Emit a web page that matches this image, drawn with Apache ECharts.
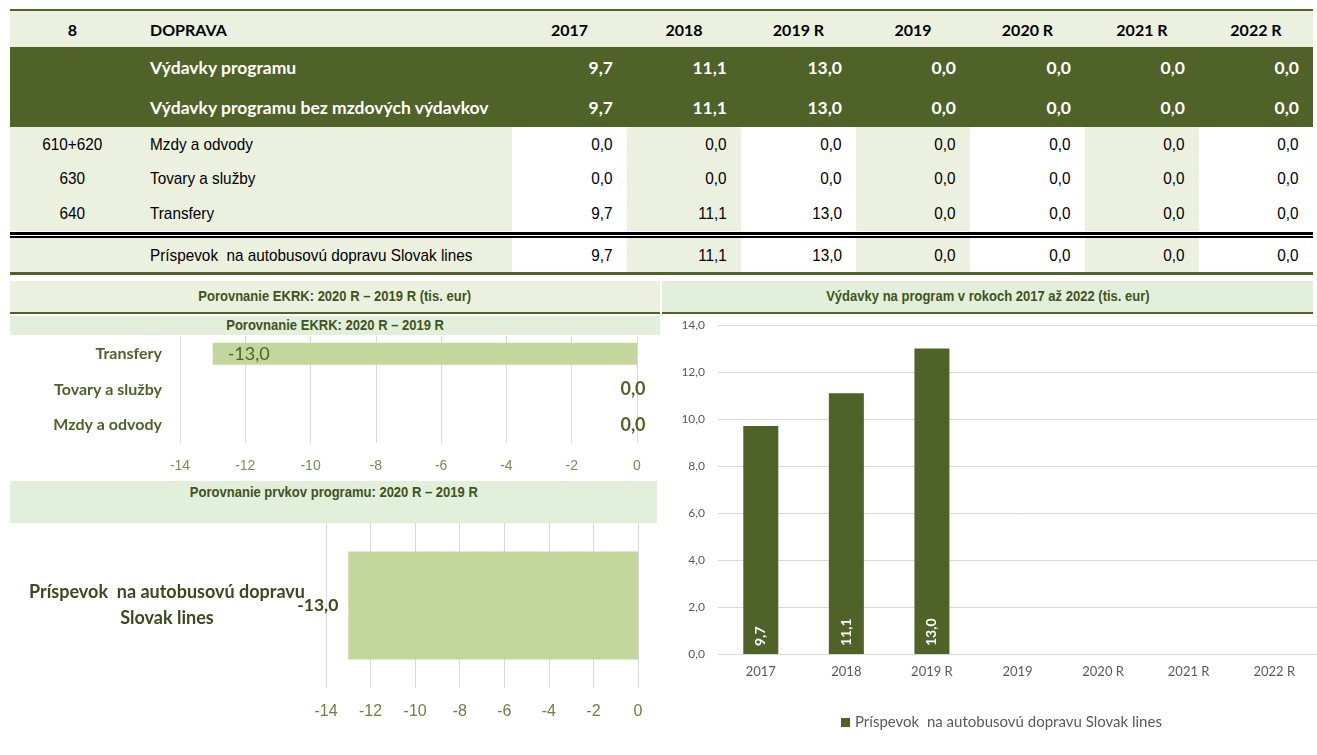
<!DOCTYPE html>
<html>
<head>
<meta charset="utf-8">
<script src="https://cdn.jsdelivr.net/npm/echarts@6/dist/echarts.min.js"></script>
<style>
html,body{margin:0;padding:0;background:#fff;}
body{width:1317px;height:755px;position:relative;overflow:hidden;}
.abs{position:absolute;box-sizing:border-box;}
.cell{position:absolute;box-sizing:border-box;display:flex;align-items:center;white-space:pre;}
.cell span{display:inline-block;}
.hd{font-family:Lato,"Noto Sans",sans-serif;font-weight:bold;font-size:16px;color:#000;}
.dk{font-family:Lato,"Noto Sans",sans-serif;font-weight:bold;font-size:17.5px;color:#fff;}
.nr{font-family:"Liberation Sans Narrow","Liberation Sans",Arial,sans-serif;font-size:17px;color:#000;}
.nr span{transform:scaleX(0.9);}
.band{position:absolute;box-sizing:border-box;font-family:"Liberation Sans Narrow","Liberation Sans",Arial,sans-serif;font-weight:bold;font-size:14px;color:#3F5420;text-align:center;}
.band span{display:inline-block;transform:scaleX(0.93);}
#chart{position:absolute;left:0;top:0;width:1317px;height:755px;z-index:5;}
</style>
</head>
<body>
<div id="table"></div>
<div class="band" style="left:10px;top:281px;width:650px;height:33px;background:#EBF1DE;border-bottom:2px solid #4F6228;line-height:31px;"><span>Porovnanie EKRK: 2020 R – 2019 R (tis. eur)</span></div>
<div class="band" style="left:662px;top:281px;width:651px;height:33px;background:#E2EFDA;border-bottom:2px solid #4F6228;line-height:31px;"><span>Výdavky na program v rokoch 2017 až 2022 (tis. eur)</span></div>
<div class="band" style="left:10px;top:316px;width:650px;height:19px;background:#E2EFDA;line-height:19px;"><span>Porovnanie EKRK: 2020 R – 2019 R</span></div>
<div class="band" style="left:10px;top:481px;width:647px;height:42px;background:#E2EFDA;line-height:22px;"><span>Porovnanie prvkov programu: 2020 R – 2019 R</span></div>
<div id="chart"></div>
<script>
// ---- data ----
var years = ['2017', '2018', '2019 R', '2019', '2020 R', '2021 R', '2022 R'];
var programTotal = [9.7, 11.1, 13.0, 0.0, 0.0, 0.0, 0.0];
var programNoWages = [9.7, 11.1, 13.0, 0.0, 0.0, 0.0, 0.0];
var wages = [0.0, 0.0, 0.0, 0.0, 0.0, 0.0, 0.0];
var goods = [0.0, 0.0, 0.0, 0.0, 0.0, 0.0, 0.0];
var transfers = [9.7, 11.1, 13.0, 0.0, 0.0, 0.0, 0.0];
var busContribution = [9.7, 11.1, 13.0, 0.0, 0.0, 0.0, 0.0];
var ekrkCategories = ['Mzdy a odvody', 'Tovary a služby', 'Transfery'];
var ekrkDiff = [0.0, 0.0, -13.0];
var elementCategories = ['Príspevok  na autobusovú dopravu\nSlovak lines'];
var elementDiff = [-13.0];
var busSeriesName = 'Príspevok  na autobusovú dopravu Slovak lines';

function fmt(v){ return v.toFixed(1).replace('.', ','); }

// ---- table ----
var colX = [10, 135, 512, 627, 741, 856, 970, 1085, 1199, 1313];
var rows = [
  {y:11, h:36, type:'hd', c0:'8', c1:'DOPRAVA', vals:years},
  {y:47, h:40, type:'dk', c0:'', c1:'Výdavky programu', vals:programTotal},
  {y:87, h:40, type:'dk', c0:'', c1:'Výdavky programu bez mzdových výdavkov', vals:programNoWages},
  {y:127, h:35, type:'nr', c0:'610+620', c1:'Mzdy a odvody', vals:wages},
  {y:162, h:34, type:'nr', c0:'630', c1:'Tovary a služby', vals:goods},
  {y:196, h:35, type:'nr', c0:'640', c1:'Transfery', vals:transfers},
  {y:238, h:35, type:'nr', c0:'', c1:'Príspevok  na autobusovú dopravu Slovak lines', vals:busContribution}
];
var html = '';
html += '<div class="abs" style="left:10px;top:9px;width:1303px;height:2px;background:#4F6228"></div>';
rows.forEach(function(r){
  for (var c = 0; c < 9; c++) {
    var bg;
    if (r.type === 'hd') bg = '#EBF1DE';
    else if (r.type === 'dk') bg = '#4F6228';
    else bg = (c < 2) ? '#EBF1DE' : ((c - 2) % 2 === 0 ? '#FFFFFF' : '#EBF1DE');
    var txt, just, pad, origin;
    if (c === 0) { txt = r.c0; just = 'center'; pad = ''; origin = 'center'; }
    else if (c === 1) { txt = r.c1; just = 'flex-start'; pad = 'padding-left:15px;'; origin = 'left'; }
    else {
      var v = r.vals[c - 2];
      if (r.type === 'hd') { txt = v; just = 'center'; pad = ''; origin = 'center'; }
      else { txt = fmt(v); just = 'flex-end'; pad = 'padding-right:14px;'; origin = 'right'; }
    }
    html += '<div class="cell ' + r.type + '" style="left:' + colX[c] + 'px;top:' + r.y + 'px;width:' + (colX[c+1]-colX[c]) + 'px;height:' + r.h + 'px;background:' + bg + ';justify-content:' + just + ';' + pad + '"><span style="transform-origin:' + origin + ' center">' + txt + '</span></div>';
  }
});
html += '<div class="abs" style="left:10px;top:232px;width:1303px;height:3px;background:#000"></div>';
html += '<div class="abs" style="left:10px;top:236px;width:1303px;height:2px;background:#000"></div>';
html += '<div class="abs" style="left:10px;top:272px;width:1303px;height:3px;background:#4F6228"></div>';
document.getElementById('table').innerHTML = html;

// ---- charts ----
var chart = echarts.init(document.getElementById('chart'), null, {renderer:'canvas'});
var narrow = '"Liberation Sans Narrow","Liberation Sans",Arial,sans-serif';
var cal = 'Lato,"Noto Sans",sans-serif';

var ekrkData = ekrkDiff.map(function(v){
  return {
    value: v,
    label: v === 0
      ? {show:true, position:'inside', offset:[-4,0], fontWeight:'bold', fontSize:18, color:'#4F6228', fontFamily:cal}
      : {show:true, position:'insideLeft', distance:15, fontWeight:'normal', fontSize:18, color:'#4F6228', fontFamily:cal}
  };
});
ekrkData.forEach(function(d){ d.label.formatter = function(p){return fmt(p.value);}; });

var option = {
  animation: false,
  backgroundColor: 'transparent',
  grid: [
    {left:180, top:336, width:457, height:107, containLabel:false},
    {left:326, top:523, width:312, height:165, containLabel:false},
    {left:718, top:325, width:607, height:329, containLabel:false}
  ],
  xAxis: [
    {gridIndex:0, type:'value', min:-14, max:0, interval:2,
     axisLine:{show:false}, axisTick:{show:false},
     splitLine:{show:true, lineStyle:{color:'#D9D9D9', width:1}},
     axisLabel:{fontFamily:narrow, fontSize:14, color:'#7A8A55', margin:16}},
    {gridIndex:1, type:'value', min:-14, max:0, interval:2,
     axisLine:{show:false}, axisTick:{show:false},
     splitLine:{show:true, lineStyle:{color:'#D9D9D9', width:1}},
     axisLabel:{fontFamily:narrow, fontSize:16, color:'#6E7F45', margin:16}},
    {gridIndex:2, type:'category', data:years,
     axisLine:{show:true, lineStyle:{color:'#D9D9D9'}}, axisTick:{show:false},
     axisLabel:{fontFamily:cal, fontSize:13, color:'#595959', margin:11}}
  ],
  yAxis: [
    {gridIndex:0, type:'category', data:ekrkCategories,
     axisLine:{show:false}, axisTick:{show:false},
     axisLabel:{fontFamily:cal, fontWeight:'bold', fontSize:16, color:'#4F6228', margin:18}},
    {gridIndex:1, type:'category', data:elementCategories,
     axisLine:{show:false}, axisTick:{show:false},
     axisLabel:{fontFamily:cal, fontWeight:'bold', fontSize:18, color:'#3B4A1E', margin:159, align:'center', lineHeight:26}},
    {gridIndex:2, type:'value', min:0, max:14, interval:2,
     axisLine:{show:false}, axisTick:{show:false},
     splitLine:{show:true, lineStyle:{color:'#D9D9D9', width:1}},
     axisLabel:{fontFamily:cal, fontSize:12, color:'#595959', margin:13, formatter:function(v){return fmt(v);}}}
  ],
  legend: {
    data:[busSeriesName], left:836, top:710, itemWidth:9, itemHeight:9, itemGap:5, icon:'rect',
    textStyle:{fontFamily:cal, fontSize:15, color:'#595959'}
  },
  series: [
    {type:'bar', xAxisIndex:0, yAxisIndex:0, data:ekrkData, barWidth:22,
     itemStyle:{color:'#C3D69B'}},
    {type:'bar', xAxisIndex:1, yAxisIndex:1, data:elementDiff, barWidth:108,
     itemStyle:{color:'#C3D69B'},
     label:{show:true, position:'left', distance:10, fontFamily:cal, fontWeight:'bold', fontSize:17.5, color:'#3B4A1E',
            formatter:function(p){return fmt(p.value);}}},
    {type:'bar', name:busSeriesName, xAxisIndex:2, yAxisIndex:2, data:busContribution, barWidth:35,
     itemStyle:{color:'#4F6228'},
     label:{show:true, position:'insideBottom', rotate:90, align:'left', verticalAlign:'middle', distance:8,
            fontFamily:cal, fontWeight:'bold', fontSize:14, color:'#fff',
            formatter:function(p){return p.value === 0 ? '' : fmt(p.value);}}}
  ]
};
chart.setOption(option);
</script>
</body>
</html>
